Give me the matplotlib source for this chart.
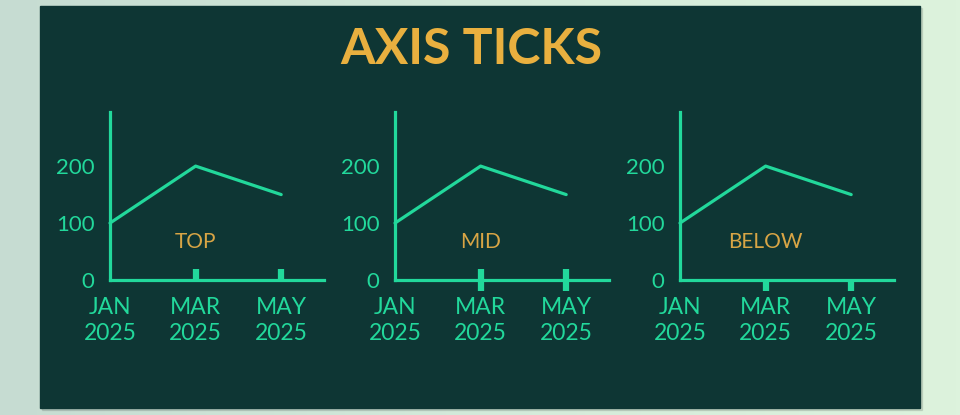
import matplotlib
matplotlib.use("Agg")
import matplotlib.pyplot as plt
import numpy as np
from matplotlib.patches import Rectangle
from matplotlib.colors import LinearSegmentedColormap

months = [0, 1, 2, 3, 4]
values = [100, 150, 200, 175, 150]
tick_pos = [0, 2, 4]
tick_labels = ["JAN\n2025", "MAR\n2025", "MAY\n2025"]
mark_pos = [2, 4]
panel_names = ["TOP", "MID", "BELOW"]
yticks = [0, 100, 200]

LINE = "#22d89b"
BG = "#0e3634"
TITLE = "#e9b03f"
LABEL = "#d8a545"
FONT = ["Lato", "DejaVu Sans"]

W, H = 960, 415
fig = plt.figure(figsize=(W / 100, H / 100), dpi=100)

# outer gradient background
bgax = fig.add_axes([0, 0, 1, 1])
bgax.set_axis_off()
gx = np.linspace(0, 1, 256)
grad = np.outer(np.ones(64), gx)
cmap = LinearSegmentedColormap.from_list("g", ["#c6dcd2", "#d3eada", "#ddf3dd"])
bgax.imshow(grad, aspect="auto", cmap=cmap, extent=[0, 1, 0, 1], zorder=0)
bgax.set_xlim(0, 1)
bgax.set_ylim(0, 1)
# shadow + panel
bgax.add_patch(Rectangle((42 / W, (H - 410) / H), 880 / W, 402 / H, color="#000000", alpha=0.10, zorder=1))
bgax.add_patch(Rectangle((40 / W, (H - 408) / H), 880 / W, 402 / H, color=BG, zorder=2))

fig.text(471 / W, 1 - 50 / H, "AXIS TICKS", ha="center", va="center", color=TITLE,
         fontsize=36, fontweight="bold", family=FONT)

lefts = [110, 395, 680]
directions = ["in", "inout", "out"]
lengths = [8, 16.5, 8]
ax_w = 214
ax_top, ax_bot = 112, 280

for left, name, d, L in zip(lefts, panel_names, directions, lengths):
    ax = fig.add_axes([left / W, (H - ax_bot) / H, ax_w / W, (ax_bot - ax_top) / H])
    ax.set_facecolor("none")
    ax.plot(months, values, color=LINE, lw=2.3, solid_joinstyle="round", solid_capstyle="round", clip_on=False)
    ax.set_xlim(0, 5)
    ax.set_ylim(0, 295)
    for s in ["top", "right"]:
        ax.spines[s].set_visible(False)
    for s in ["left", "bottom"]:
        ax.spines[s].set_color(LINE)
        ax.spines[s].set_linewidth(2.3)
    ax.set_yticks(yticks)
    ax.set_yticklabels([str(v) for v in yticks], family=FONT, fontsize=16, color=LINE)
    ax.tick_params(axis="y", length=0, pad=11)
    ax.xaxis.remove_overlapping_locs = False
    ax.set_xticks(tick_pos)
    ax.set_xticklabels(tick_labels, family=FONT, fontsize=16.5, color=LINE, linespacing=1.3)
    ax.tick_params(axis="x", which="major", length=0, pad=12)
    ax.set_xticks(mark_pos, minor=True)
    ax.tick_params(axis="x", which="minor", direction=d, length=L, width=4.5, color=LINE)
    ax.text(2, 67, name, ha="center", va="center", color=LABEL, fontsize=15, family=FONT)

fig.savefig("out.png", dpi=100)
